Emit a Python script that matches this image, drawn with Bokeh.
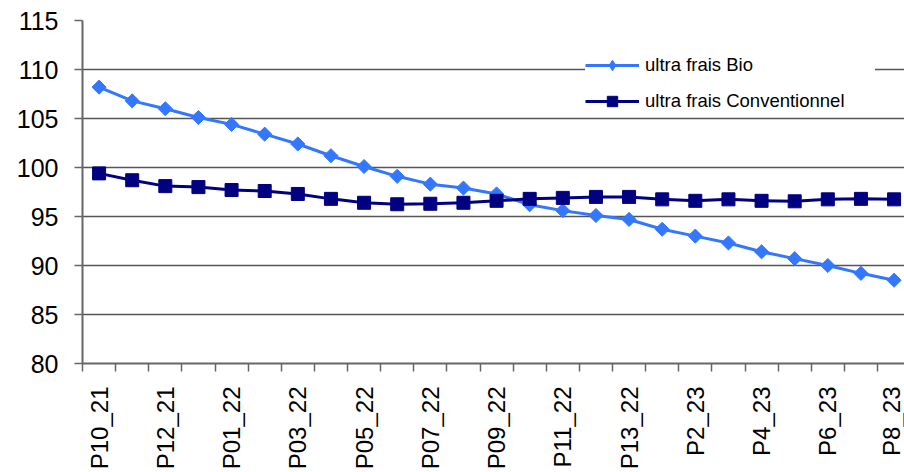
import math
from bokeh.plotting import figure
from bokeh.models import FixedTicker, Range1d, CustomJSTickFormatter, Legend, LegendItem
from bokeh.embed import file_html
from bokeh.resources import INLINE

periods = ["P10_21", "P11_21", "P12_21", "P13_21", "P01_22", "P02_22", "P03_22",
           "P04_22", "P05_22", "P06_22", "P07_22", "P08_22", "P09_22", "P10_22",
           "P11_22", "P12_22", "P13_22", "P1_23", "P2_23", "P3_23", "P4_23",
           "P5_23", "P6_23", "P7_23", "P8_23"]
bio = [108.2, 106.8, 106.0, 105.1, 104.4, 103.4, 102.4, 101.2, 100.1, 99.1,
       98.3, 97.9, 97.3, 96.2, 95.6, 95.1, 94.7, 93.7, 93.0, 92.3,
       91.4, 90.7, 90.0, 89.2, 88.5]
conv = [99.4, 98.7, 98.1, 98.0, 97.7, 97.6, 97.3, 96.8, 96.4, 96.25,
        96.3, 96.4, 96.6, 96.8, 96.9, 97.0, 97.0, 96.75, 96.6, 96.75,
        96.6, 96.55, 96.75, 96.8, 96.75]
y_ticks = [80, 85, 90, 95, 100, 105, 110, 115]
series_names = ["ultra frais Bio", "ultra frais Conventionnel"]

x = list(range(len(periods)))
FONT = "Liberation Sans"

p = figure(width=904, height=472, output_backend="svg", toolbar_location=None,
           x_range=Range1d(-0.5, 24.315), y_range=Range1d(80, 115),
           min_border_left=82, min_border_right=0, min_border_top=20,
           min_border_bottom=108)
p.outline_line_color = None
p.background_fill_color = "white"

BIO_C = "#3377FF"
CONV_C = "#000080"

bio_line = p.line(x, bio, line_color=BIO_C, line_width=3)
p.scatter(x, bio, marker="square", angle=math.pi / 4, size=10,
          fill_color=BIO_C, line_color=BIO_C)
# legend proxy (diamond icon in the legend; zero size in the plot)
bio_key = p.scatter(x, bio, marker="diamond", size=0,
                    fill_color=BIO_C, line_color=BIO_C)
conv_line = p.line(x, conv, line_color=CONV_C, line_width=3)
conv_pts = p.scatter(x, conv, marker="square", size=13,
                     fill_color=CONV_C, line_color=CONV_C)

# x axis
xa = p.xaxis[0]
xa.ticker = FixedTicker(ticks=list(range(0, len(periods), 2)),
                        minor_ticks=[i - 0.5 for i in range(len(periods) + 1)])
xa.formatter = CustomJSTickFormatter(args=dict(labels=periods),
                                     code="return labels[Math.round(tick)] || '';")
xa.major_label_orientation = math.pi / 2
xa.major_tick_line_color = None
xa.major_tick_out = 0
xa.minor_tick_out = 8
xa.minor_tick_in = 0
xa.minor_tick_line_color = "#666666"
xa.minor_tick_line_width = 1.5
xa.axis_line_color = "#666666"
xa.axis_line_width = 2
xa.major_label_standoff = 15
xa.major_label_text_font = FONT
xa.major_label_text_font_size = "24px"
xa.major_label_text_color = "black"

# y axis
ya = p.yaxis[0]
ya.ticker = FixedTicker(ticks=y_ticks)
ya.major_tick_out = 8
ya.major_tick_in = 0
ya.major_tick_line_color = "#666666"
ya.major_tick_line_width = 1.5
ya.minor_tick_line_color = None
ya.axis_line_color = "#666666"
ya.axis_line_width = 2
ya.major_label_standoff = 16
ya.major_label_text_font = FONT
ya.major_label_text_font_size = "25px"
ya.major_label_text_color = "black"

p.xgrid.visible = False
p.ygrid.grid_line_color = "#555555"
p.ygrid.grid_line_width = 1.3

lg = Legend(items=[
    LegendItem(label=series_names[0], renderers=[bio_line, bio_key]),
    LegendItem(label=series_names[1], renderers=[conv_line, conv_pts]),
])
lg.location = (503, 249)
lg.background_fill_color = "white"
lg.background_fill_alpha = 1
lg.border_line_color = None
lg.padding = 3
lg.margin = 0
lg.spacing = 10
lg.glyph_width = 54
lg.glyph_height = 26
lg.label_height = 26
lg.label_width = 230
lg.label_standoff = 6
lg.label_text_font = FONT
lg.label_text_font_size = "18.5px"
lg.label_text_color = "black"
p.add_layout(lg, "center")

open("out.html", "w").write(file_html(p, INLINE))
